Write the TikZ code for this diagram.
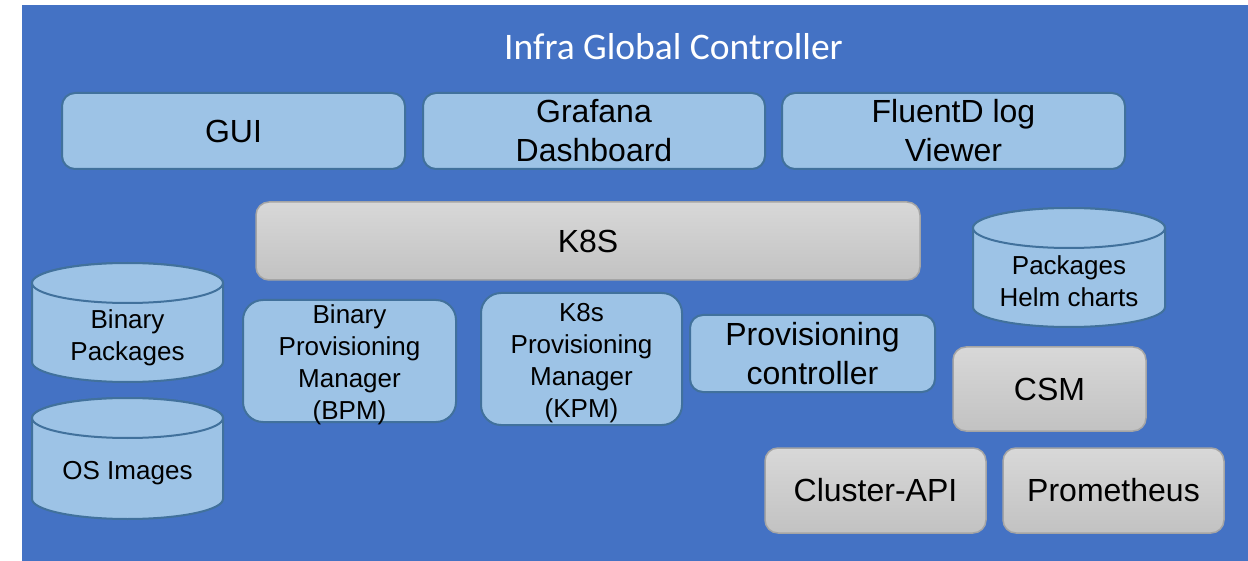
\documentclass[tikz,border=0pt]{standalone}
\usepackage{fontspec}
\setmainfont{Liberation Sans}
\newfontfamily\titlefont{Carlito}
\definecolor{bgblue}{HTML}{4472C4}
\definecolor{lightbox}{HTML}{9DC3E6}
\definecolor{boxborder}{HTML}{41719C}
\definecolor{greyborder}{HTML}{A5A5A5}
\definecolor{greytop}{HTML}{D8D8D8}
\definecolor{greybot}{HTML}{C2C2C2}
\newcommand\cylshape[5]{%
  \path[cyl] ({#1-#2},#3) -- ({#1-#2},#4)
    arc[start angle=180,end angle=360,x radius=#2pt,y radius=#5pt]
    -- ({#1+#2},#3)
    arc[start angle=0,end angle=180,x radius=#2pt,y radius=#5pt] -- cycle;
  \path[cyl] (#1,#3) ellipse[x radius=#2pt, y radius=#5pt];
}
\begin{document}
\begin{tikzpicture}[x=1pt,y=-1pt,
  bigtext/.style={font=\fontsize{32}{39}\selectfont},
  smalltext/.style={font=\fontsize{26}{32}\selectfont},
  bluebox/.style={draw=boxborder, line width=2pt, fill=lightbox, rounded corners=13pt, inner sep=0pt, align=center, bigtext},
  greybox/.style={draw=greyborder, line width=1.5pt, top color=greytop, bottom color=greybot, rounded corners=13pt, inner sep=0pt, align=center, bigtext},
  cyl/.style={draw=boxborder, line width=2pt, fill=lightbox},
  lbl/.style={align=center, inner sep=0pt, smalltext}
]
\useasboundingbox (0,0) rectangle (1248,561);
\fill[bgblue] (22,5) rectangle (1248,561);
\node[text=white, font=\titlefont\fontsize{37.5}{40}\selectfont, inner sep=0pt] (title) at (673.5,47) {Infra Global Controller};

\node[bluebox, minimum width=343pt, minimum height=76pt] (gui) at (233.5,131) {GUI};
\node[bluebox, minimum width=342pt, minimum height=76pt] (grafana) at (594,131) {Grafana\\Dashboard};
\node[bluebox, minimum width=343pt, minimum height=76pt] (fluentd) at (953.5,131) {FluentD log\\Viewer};

\node[greybox, minimum width=664pt, minimum height=78pt] (k8s) at (588,241) {K8S};

\node[bluebox, rounded corners=20pt, minimum width=213pt, minimum height=122pt,
  label={[lbl, yshift=-4pt]center:{Binary\\Provisioning\\Manager\\(BPM)}}] (bpm) at (349.5,361) {};
\node[bluebox, rounded corners=20pt, minimum width=201pt, minimum height=132pt,
  label={[lbl, yshift=-4pt]center:{K8s\\Provisioning\\Manager\\(KPM)}}] (kpm) at (581.5,359) {};
\node[bluebox, minimum width=245pt, minimum height=77pt] (prov) at (812.5,353.5) {Provisioning\\controller};

\node[greybox, minimum width=193pt, minimum height=84pt] (csm) at (1049.5,389) {CSM};
\node[greybox, minimum width=221pt, minimum height=85pt] (capi) at (875.5,490.5) {Cluster-API};
\node[greybox, minimum width=221pt, minimum height=85pt] (prom) at (1113.5,490.5) {Prometheus};

\cylshape{127.5}{95.5}{283}{362}{20}
\node[lbl] (binpkg) at (127.5,338) {Binary\\Packages};
\cylshape{127.5}{95.5}{418}{499}{20}
\node[lbl] (osimg) at (127.5,473) {OS Images};
\cylshape{1069}{96}{228}{307}{20}
\node[lbl] (helm) at (1069,281) {Packages\\Helm charts};
\end{tikzpicture}
\end{document}
